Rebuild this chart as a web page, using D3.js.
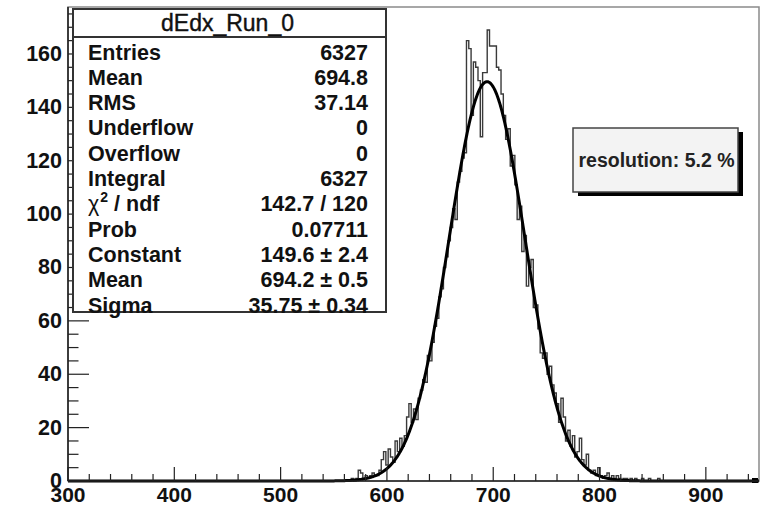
<!DOCTYPE html>
<html><head><meta charset="utf-8">
<script src="https://cdn.jsdelivr.net/npm/d3@7"></script>
<style>body{margin:0;background:#fff}svg{display:block}</style>
</head><body>
<svg id="chart" width="771" height="507"></svg>
<script>
// ---- data ----
const xDomain = [300, 950];
const yDomain = [0, 177.6];
const xTickMajor = [300, 400, 500, 600, 700, 800, 900];
const yTickMajor = [0, 20, 40, 60, 80, 100, 120, 140, 160];
const binStart = 300 + 122 * 650 / 300;   // low edge of first listed bin
const binWidth = 650 / 300;
const counts = [0,1,0,1,4,3,1,2,1,2,3,2,2,4,8,11,6,12,9,7,15,11,16,13,17,24,29,22,27,23,
  31,34,38,37,47,45,52,58,61,69,72,80,84,90,95,102,98,112,116,121,123,165,162,137,157,155,150,129,153,153,
  169,163,163,163,155,154,145,137,128,132,118,122,111,98,103,86,92,73,80,83,65,66,57,48,46,48,40,43,36,33,
  29,22,31,24,15,19,13,17,9,11,16,8,6,10,4,3,4,2,5,2,1,2,3,1,2,1,2,1,0,1,1,0,1,0,1,0,0,1,0,0,1,0,0,0,1,0];
const statsTitle = "dEdx_Run_0";
const statsLabels = ["Entries","Mean","RMS","Underflow","Overflow","Integral","χ2 / ndf","Prob","Constant","Mean","Sigma"];
const statsValues = ["6327","694.8","37.14","0","0","6327","142.7 / 120","0.07711","149.6 ± 2.4","694.2 ± 0.5","35.75 ± 0.34"];
const fitConstant = 149.6, fitMean = 694.2, fitSigma = 35.75;
const resolutionText = "resolution: 5.2 %";

// ---- layout ----
const L = 68, R = 759, T = 7, B = 481;
const FONT = "'Liberation Sans', Arial, Helvetica, sans-serif";
const svg = d3.select("#chart");
const x = d3.scaleLinear().domain(xDomain).range([L, R]);
const y = d3.scaleLinear().domain(yDomain).range([B, T]);

// frame
svg.append("rect").attr("x", L).attr("y", T).attr("width", R - L).attr("height", B - T)
  .attr("fill", "#fff").attr("stroke", "#8a8a8a").attr("stroke-width", 1.5);

// histogram (step outline)
const pts = [[xDomain[0], 0], [binStart, 0]];
counts.forEach((c, i) => pts.push([binStart + i * binWidth, c]));
pts.push([binStart + counts.length * binWidth, 0]);
pts.push([xDomain[1], 0]);
svg.append("path").datum(pts)
  .attr("d", d3.line().x(d => x(d[0])).y(d => y(d[1])).curve(d3.curveStepAfter))
  .attr("fill", "none").attr("stroke", "#3a3a3a").attr("stroke-width", 1.4);

// fit curve
const fitPts = d3.range(xDomain[0], xDomain[1] + 0.01, 0.5).map(v =>
  [v, fitConstant * Math.exp(-0.5 * Math.pow((v - fitMean) / fitSigma, 2))]);
svg.append("path").datum(fitPts)
  .attr("d", d3.line().x(d => x(d[0])).y(d => y(d[1])))
  .attr("fill", "none").attr("stroke", "#000").attr("stroke-width", 3);
svg.append("rect").attr("x", R - 7).attr("y", B - 3).attr("width", 6).attr("height", 5).attr("fill", "#000");

// axes lines
svg.append("line").attr("x1", L).attr("x2", L).attr("y1", T).attr("y2", B).attr("stroke", "#222").attr("stroke-width", 1.6);
svg.append("line").attr("x1", L).attr("x2", R).attr("y1", B).attr("y2", B).attr("stroke", "#222").attr("stroke-width", 1.6);

// x ticks
const xMinor = d3.range(xDomain[0], xDomain[1] + 0.1, 20);
svg.append("g").selectAll("line").data(xMinor).join("line")
  .attr("x1", d => x(d)).attr("x2", d => x(d))
  .attr("y1", B).attr("y2", d => B - (d % 100 === 0 ? 14 : 7))
  .attr("stroke", "#222").attr("stroke-width", 1.2);
svg.append("g").selectAll("text").data(xTickMajor).join("text")
  .attr("x", d => x(d)).attr("y", 502).attr("text-anchor", "middle")
  .attr("font-family", FONT).attr("font-weight", "bold").attr("font-size", 21).attr("fill", "#111")
  .text(d => d);

// y ticks
const yMinor = d3.range(0, yDomain[1], 5);
svg.append("g").selectAll("line").data(yMinor).join("line")
  .attr("x1", L).attr("x2", d => L + (d % 20 === 0 ? 21 : 10.5))
  .attr("y1", d => y(d)).attr("y2", d => y(d))
  .attr("stroke", "#222").attr("stroke-width", 1.2);
svg.append("g").selectAll("text").data(yTickMajor).join("text")
  .attr("x", 62).attr("y", d => y(d) + 7).attr("text-anchor", "end")
  .attr("font-family", FONT).attr("font-weight", "bold").attr("font-size", 21.5).attr("fill", "#111")
  .text(d => d);

// stats box
const sb = { x: 73, y: 9, w: 313, h: 303, head: 28 };
svg.append("rect").attr("x", sb.x).attr("y", sb.y).attr("width", sb.w).attr("height", sb.h)
  .attr("fill", "#fff").attr("stroke", "#333").attr("stroke-width", 2);
svg.append("line").attr("x1", sb.x).attr("x2", sb.x + sb.w).attr("y1", sb.y + sb.head).attr("y2", sb.y + sb.head)
  .attr("stroke", "#333").attr("stroke-width", 2);
svg.append("text").attr("x", sb.x + sb.w / 2 - 2).attr("y", sb.y + 22).attr("text-anchor", "middle")
  .attr("font-family", FONT).attr("font-size", 23).attr("fill", "#111")
  .attr("stroke", "#111").attr("stroke-width", 0.4).text(statsTitle);
const rowH = 25.3, row0 = 59.5;
const lab = svg.append("g").attr("font-family", FONT).attr("font-weight", "bold").attr("font-size", 21.5).attr("fill", "#111");
statsLabels.forEach((t, i) => {
  const tx = lab.append("text").attr("x", 88).attr("y", row0 + i * rowH);
  if (t.startsWith("χ2")) {
    tx.append("tspan").attr("font-weight", "normal").text("χ");
    tx.append("tspan").attr("font-size", 14).attr("dx", 1).attr("dy", -9).text("2");
    tx.append("tspan").attr("dy", 9).text(t.slice(2));
  } else tx.text(t);
});
statsValues.forEach((t, i) => {
  lab.append("text").attr("x", 368).attr("y", row0 + i * rowH).attr("text-anchor", "end").text(t);
});

// resolution box
const rb = { x: 573, y: 128, w: 165, h: 64 };
svg.append("rect").attr("x", rb.x + 5).attr("y", rb.y + 4).attr("width", rb.w).attr("height", rb.h).attr("fill", "#000");
svg.append("rect").attr("x", rb.x).attr("y", rb.y).attr("width", rb.w).attr("height", rb.h)
  .attr("fill", "#f3f3f3").attr("stroke", "#444").attr("stroke-width", 1.5);
svg.append("text").attr("x", rb.x + rb.w / 2 + 1).attr("y", rb.y + rb.h / 2 + 7).attr("text-anchor", "middle")
  .attr("font-family", FONT).attr("font-weight", "bold").attr("font-size", 19.5).attr("fill", "#222")
  .text(resolutionText);
</script>
</body></html>
